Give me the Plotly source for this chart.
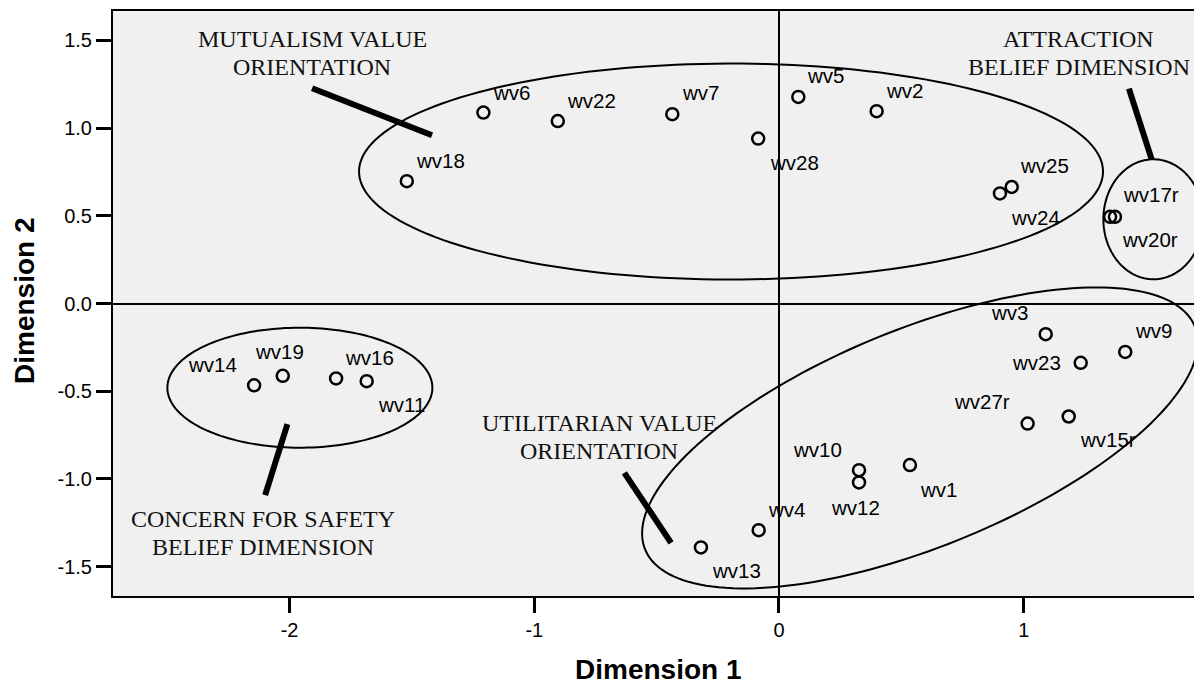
import numpy as np
import plotly.graph_objects as go

# ---- data: two-dimensional MDS solution for the wildlife value items ----
items = ["wv18", "wv6", "wv22", "wv7", "wv28", "wv5", "wv2", "wv24", "wv25",
         "wv17r", "wv20r", "wv14", "wv19", "wv16", "wv11", "wv13", "wv4",
         "wv10", "wv12", "wv1", "wv3", "wv9", "wv23", "wv27r", "wv15r"]
dim1 = [-1.521, -1.208, -0.904, -0.436, -0.085, 0.079, 0.399, 0.903, 0.951,
        1.373, 1.353, -2.145, -2.028, -1.810, -1.685, -0.319, -0.083,
        0.327, 0.327, 0.535, 1.090, 1.415, 1.233, 1.016, 1.184]
dim2 = [0.697, 1.088, 1.040, 1.079, 0.940, 1.177, 1.096, 0.627, 0.664,
        0.494, 0.494, -0.466, -0.412, -0.427, -0.443, -1.390, -1.292,
        -0.950, -1.020, -0.921, -0.175, -0.276, -0.338, -0.684, -0.644]

x_tickvals = [-2, -1, 0, 1]
x_ticktext = ["-2", "-1", "0", "1"]
y_tickvals = [-1.5, -1.0, -0.5, 0.0, 0.5, 1.0, 1.5]
y_ticktext = ["-1.5", "-1.0", "-0.5", "0.0", "0.5", "1.0", "1.5"]

group_titles = [
    ["MUTUALISM VALUE", "ORIENTATION"],
    ["ATTRACTION", "BELIEF DIMENSION"],
    ["CONCERN FOR SAFETY", "BELIEF DIMENSION"],
    ["UTILITARIAN VALUE", "ORIENTATION"],
]

# ---- layout geometry ----
W, H = 1194, 685
M_L, M_R, M_T, M_B = 113, 0, 11, 89
X_RANGE = [-2.7217, 1.696]
Y_RANGE = [-1.667, 1.667]
PLOT_W = W - M_L - M_R
PLOT_H = H - M_T - M_B
PX_X = PLOT_W / (X_RANGE[1] - X_RANGE[0])   # pixels per unit, x
PX_Y = PLOT_H / (Y_RANGE[1] - Y_RANGE[0])   # pixels per unit, y

# label placement (pixel offsets from each point: right, down)
label_offsets = {
    "wv18": (34, -21), "wv6": (28, -20), "wv22": (34, -21), "wv7": (28, -22),
    "wv28": (36, 24), "wv5": (27, -21), "wv2": (28, -21), "wv24": (36, 24),
    "wv25": (33, -21), "wv17r": (36, -22), "wv20r": (40, 23),
    "wv14": (-42, -21), "wv19": (-3, -24), "wv16": (33, -21), "wv11": (35, 23),
    "wv13": (36, 23.5), "wv4": (28, -21), "wv10": (-41.5, -20.3),
    "wv12": (-3.5, 25), "wv1": (29, 24), "wv3": (-36, -22), "wv9": (28, -21),
    "wv23": (-44, 0), "wv27r": (-46, -22), "wv15r": (39, 23),
}

# cluster outlines: centre (data), semi-axes (px), rotation (deg, screen)
outlines = [
    dict(cx=-0.196, cy=0.752, a=372, b=108, rot=0),
    dict(cx=1.530, cy=0.480, a=50, b=60, rot=0),
    dict(cx=-1.958, cy=-0.480, a=132.5, b=60, rot=0),
    dict(cx=0.576, cy=-0.766, a=296.6, b=109, rot=22.1),
]
# thick pointer strokes joining titles to clusters (data coords)
pointers = [
    ((-1.908, 1.227), (-1.418, 0.959)),
    ((1.430, 1.225), (1.523, 0.821)),
    ((-2.009, -0.688), (-2.100, -1.092)),
    ((-0.632, -0.965), (-0.441, -1.364)),
]
# title block centres (data) and per-line spacing in px
title_pos = [(-1.908, 1.428), (1.226, 1.428), (-2.107, -1.308), (-0.734, -0.762)]
TITLE_LINE_GAP = 27.5


def ellipse_path(cx, cy, a, b, rot, n=180):
    t = np.linspace(0, 2 * np.pi, n)
    th = np.deg2rad(rot)
    ux, vy = a * np.cos(t), b * np.sin(t)
    dx = ux * np.cos(th) - vy * np.sin(th)
    dy = ux * np.sin(th) + vy * np.cos(th)
    xs = cx + dx / PX_X
    ys = cy + dy / PX_Y
    pts = [f"{x:.5f},{y:.5f}" for x, y in zip(xs, ys)]
    return "M" + " L".join(pts) + " Z"


fig = go.Figure()
fig.add_trace(go.Scatter(
    x=dim1, y=dim2, mode="markers",
    marker=dict(symbol="circle-open", size=12, color="black",
                line=dict(width=2.5, color="black")),
    hoverinfo="text", text=items, showlegend=False,
))

shapes = []
for o in outlines:
    shapes.append(dict(type="path", xref="x", yref="y",
                       path=ellipse_path(o["cx"], o["cy"], o["a"], o["b"], o["rot"]),
                       line=dict(color="black", width=2), layer="above"))
for (x0, y0), (x1, y1) in pointers:
    shapes.append(dict(type="line", xref="x", yref="y", x0=x0, y0=y0, x1=x1, y1=y1,
                       line=dict(color="black", width=6), layer="above"))

annotations = []
for name, x, y in zip(items, dim1, dim2):
    dx, dy = label_offsets[name]
    annotations.append(dict(x=x, y=y, xref="x", yref="y", text=name, showarrow=False,
                            xshift=dx, yshift=-dy, xanchor="center", yanchor="middle",
                            font=dict(family="Liberation Sans, Arial", size=20.5, color="black")))
for lines, (tx, ty) in zip(group_titles, title_pos):
    n = len(lines)
    for k, line in enumerate(lines):
        shift = ((n - 1) / 2 - k) * TITLE_LINE_GAP
        annotations.append(dict(x=tx, y=ty, xref="x", yref="y", text=line, showarrow=False,
                                yshift=shift, xanchor="center", yanchor="middle",
                                font=dict(family="Liberation Serif, Times New Roman",
                                          size=24, color="#111111")))
# axis titles
annotations.append(dict(x=(658.3 - M_L) / PLOT_W, y=-(669.5 - (H - M_B)) / PLOT_H,
                        xref="paper", yref="paper", text="<b>Dimension 1</b>",
                        showarrow=False, xanchor="center", yanchor="middle",
                        font=dict(family="Liberation Sans, Arial", size=28, color="black")))
annotations.append(dict(x=(24 - M_L) / PLOT_W, y=((H - M_B) - 301) / PLOT_H,
                        xref="paper", yref="paper", text="<b>Dimension 2</b>",
                        showarrow=False, xanchor="center", yanchor="middle", textangle=-90,
                        font=dict(family="Liberation Sans, Arial", size=28, color="black")))

fig.update_layout(
    width=W, height=H,
    margin=dict(l=M_L, r=M_R, t=M_T, b=M_B, pad=0),
    paper_bgcolor="white", plot_bgcolor="#f0f0f0",
    shapes=shapes, annotations=annotations,
    font=dict(family="Liberation Sans, Arial", size=20, color="black"),
)
fig.update_xaxes(
    range=X_RANGE, tickvals=x_tickvals, ticktext=x_ticktext,
    showgrid=False, zeroline=True, zerolinecolor="black", zerolinewidth=2,
    showline=True, linecolor="black", linewidth=2, mirror=True,
    ticks="outside", ticklen=15, tickwidth=2.5, tickcolor="black",
    tickfont=dict(size=20, color="black"),
)
fig.update_yaxes(
    range=Y_RANGE, tickvals=y_tickvals, ticktext=y_ticktext,
    showgrid=False, zeroline=True, zerolinecolor="black", zerolinewidth=2,
    showline=True, linecolor="black", linewidth=2, mirror=False,
    ticks="outside", ticklen=15, tickwidth=2.5, tickcolor="black",
    tickfont=dict(size=20, color="black"),
)

fig.write_html("out.html")
